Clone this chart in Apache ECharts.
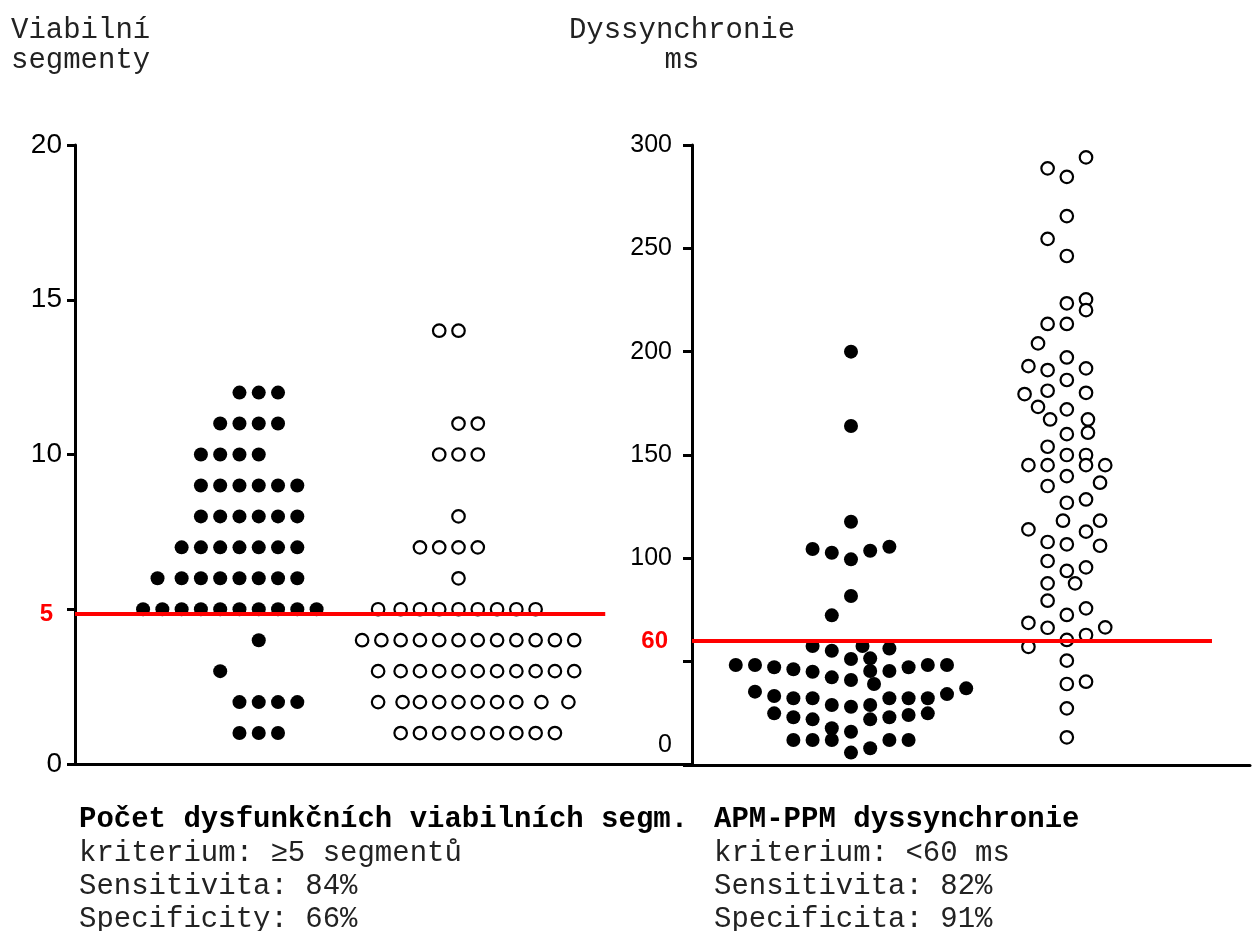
<!DOCTYPE html>
<html>
<head>
<meta charset="utf-8">
<script src="https://cdn.jsdelivr.net/npm/echarts@6/dist/echarts.min.js"></script>
<style>html,body{margin:0;padding:0;background:#fff}#c{width:1252px;height:931px}</style>
</head>
<body>
<div id="c"></div>
<script>
// ---------- DATA ----------
// Left panel: viable segments, rows of [value, swarm column positions]
const viabFilledRows = [
  [12, [5, 6, 7]],
  [11, [4, 5, 6, 7]],
  [10, [3, 4, 5, 6]],
  [9, [3, 4, 5, 6, 7, 8]],
  [8, [3, 4, 5, 6, 7, 8]],
  [7, [2, 3, 4, 5, 6, 7, 8]],
  [6, [0.75, 2, 3, 4, 5, 6, 7, 8]],
  [5, [0, 1, 2, 3, 4, 5, 6, 7, 8, 9]],
  [4, [6]],
  [3, [4]],
  [2, [5, 6, 7, 8]],
  [1, [5, 6, 7]]
];
const viabOpenRows = [
  [14, [4, 5]],
  [11, [5, 6]],
  [10, [4, 5, 6]],
  [8, [5]],
  [7, [3, 4, 5, 6]],
  [6, [5]],
  [5, [0.83, 2, 3, 4, 5, 6, 7, 8, 9]],
  [4, [0, 1, 2, 3, 4, 5, 6, 7, 8, 9, 10, 11]],
  [3, [0.83, 2, 3, 4, 5, 6, 7, 8, 9, 10, 11]],
  [2, [0.83, 2.1, 3, 4, 5, 6, 7, 8, 9.3, 10.7]],
  [1, [2, 3, 4, 5, 6, 7, 8, 9, 10]]
];
// Right panel: dyssynchrony (ms), pairs of [swarm offset, value]
const dysFilled = [
  [0,200],[0,164],[0,117.7],[-2,104.5],[-1,102.7],[0,99.5],[1,103.7],[2,105.6],
  [0,81.8],[-1,72.4],[-2,57.6],[-1,55.3],[0.6,57.6],[2,56.4],[0,51.3],[1,51.6],
  [-6,48.4],[-5,48.4],[-4,47.3],[-3,46.3],[-2,45.1],[-1,42.4],[0,41.1],[1,45.5],
  [2,45.5],[3,47.3],[4,48.4],[5,48.4],[1.2,39.2],[-5,35.5],[-4,33.4],[-3,32.3],
  [-2,32.3],[-1,29],[0,28.2],[1,29],[2,32.3],[3,32.3],[4,32.3],[5,34.3],[6,37.1],
  [-4,25],[-3,23.1],[-2,22.1],[1,22.1],[2,23.1],[3,24.2],[4,25],[-1,17.8],[0,16.1],
  [-3,12.1],[-2,12.1],[-1,12.1],[2,12.1],[3,12.1],[0,6],[1,8.1]
];
const dysOpen = [
  [1,294],[-1,288.7],[0,284.6],[0,265.6],[-1,254.6],[0,246.3],[1,225.3],[1,220.1],
  [0,223.4],[-1,213.4],[0,213.4],[-1.5,204],[0,197.2],[-2,193],[-1,191.1],[1,191.9],
  [0,186.3],[-2.2,179.5],[-1,181.1],[1,180.1],[-1.5,173.3],[0,172.1],[-0.87,167.2],
  [1.1,167.2],[1.1,160.8],[0,160.1],[-1,154],[0,150],[1,150],[-2,145.1],[-1,145.1],
  [1,145.1],[2,145.1],[0,139.8],[-1,135],[1.73,136.6],[0,126.9],[1,128.5],[-0.2,118.2],
  [1.73,118.2],[-2,114],[1,112.9],[-1,107.9],[0,106.8],[1.73,106.1],[-1,98.7],[0,93.9],
  [1,95.6],[-1,87.9],[0.43,87.9],[-1,79.5],[0,72.6],[1,75.8],[-2,68.8],[-1,66.4],
  [2,66.6],[0,60.5],[1,62.9],[-2,57.2],[0,50.5],[0,39.2],[1,40.3],[0,27.4],[0,13.4]
];
const leftTicks = [0, 5, 10, 15, 20];
const rightTicks = [0, 50, 100, 150, 200, 250, 300];
const leftCutoff = 5, rightCutoff = 60;
const leftAxisTitle = ['Viabilní', 'segmenty'];
const rightAxisTitle = ['Dyssynchronie', 'ms'];
const leftCaption = ['Počet dysfunkčních viabilních segm.', 'kriterium: ≥5 segmentů', 'Sensitivita: 84%', 'Specificity: 66%'];
const rightCaption = ['APM-PPM dyssynchronie', 'kriterium: <60 ms', 'Sensitivita: 82%', 'Specificita: 91%'];

// ---------- LAYOUT ----------
const L_XMAX = 32, L_FILLED_BASE = 3.53, L_OPEN_BASE = 14.89, L_LINE_END = 27.5, L_LINE_Y = 4.85;
const R_XMAX = 29.06, R_FILLED_C = 8.28, R_OPEN_C = 19.52, R_LINE_END = 27.08;
const MONO = 'Liberation Mono';
const SANS = 'Liberation Sans';

const rowsToData = (rows, base) => rows.flatMap(([v, cols]) => cols.map(c => [base + c, v]));
const offToData = (pairs, c) => pairs.map(([o, v]) => [c + o, v]);

const filledStyle = { color: '#000', opacity: 1 };
const openStyle = { color: '#fff', borderColor: '#000', borderWidth: 2.2, opacity: 1 };

function caption(lines) {
  return '{b|' + lines[0] + '}\n' + lines.slice(1).map(s => '{n|' + s + '}').join('\n');
}
const capRich = {
  b: { fontFamily: MONO, fontSize: 29, fontWeight: 'bold', color: '#000', lineHeight: 34 },
  n: { fontFamily: MONO, fontSize: 29, fontWeight: 'normal', color: '#222', lineHeight: 33 }
};

const redLabel = (txt, dist) => ({
  show: true, position: 'start', formatter: txt, distance: dist,
  color: '#ff0000', fontFamily: SANS, fontWeight: 'bold', fontSize: 24
});

const option = {
  animation: false,
  backgroundColor: '#fff',
  title: [
    { left: 6, top: 10, text: leftAxisTitle.join('\n'),
      textStyle: { fontFamily: MONO, fontSize: 29, fontWeight: 'normal', color: '#222', lineHeight: 30 } },
    { left: 677, top: 10, textAlign: 'center', text: rightAxisTitle.join('\n'),
      textStyle: { fontFamily: MONO, fontSize: 29, fontWeight: 'normal', color: '#222', lineHeight: 30, align: 'center' } },
    { left: 74, top: 798, text: caption(leftCaption), textStyle: { fontWeight: 'normal', rich: capRich } },
    { left: 709, top: 798, text: caption(rightCaption), textStyle: { fontWeight: 'normal', rich: capRich } }
  ],
  grid: [
    { left: 75, right: 560, top: 145, bottom: 167 },
    { left: 692, right: 2, top: 145, bottom: 166 }
  ],
  xAxis: [
    { gridIndex: 0, type: 'value', min: 0, max: L_XMAX, show: true,
      axisLine: { show: true, onZero: false, lineStyle: { color: '#000', width: 3 } },
      axisTick: { show: false }, axisLabel: { show: false }, splitLine: { show: false } },
    { gridIndex: 1, type: 'value', min: 0, max: R_XMAX,
      axisLine: { show: true, onZero: false, lineStyle: { color: '#000', width: 3 } },
      axisTick: { show: false }, axisLabel: { show: false }, splitLine: { show: false } }
  ],
  yAxis: [
    { gridIndex: 0, type: 'value', min: leftTicks[0], max: leftTicks[leftTicks.length - 1], interval: 5,
      axisLine: { show: true, onZero: false, lineStyle: { color: '#000', width: 3 } },
      axisTick: { show: true, length: 8, lineStyle: { color: '#000', width: 3 } },
      splitLine: { show: false },
      axisLabel: { margin: 13, fontFamily: SANS, fontSize: 28, color: '#000',
        formatter: v => (v === leftCutoff ? '' : String(v)) } },
    { gridIndex: 1, type: 'value', min: rightTicks[0], max: rightTicks[rightTicks.length - 1], interval: 50,
      axisLine: { show: true, onZero: false, lineStyle: { color: '#000', width: 3 } },
      axisTick: { show: true, length: 9, lineStyle: { color: '#000', width: 3 } },
      splitLine: { show: false },
      axisLabel: { margin: 20, fontFamily: SANS, fontSize: 25, color: '#000',
        formatter: v => (v === 0 ? '{z|0}' : v === 50 ? '' : String(v)),
        rich: { z: { fontFamily: SANS, fontSize: 25, color: '#000', padding: [0, 0, 40, 0] } } } }
  ],
  series: [
    { type: 'scatter', xAxisIndex: 0, yAxisIndex: 0, symbol: 'circle', symbolSize: 14,
      itemStyle: filledStyle, data: rowsToData(viabFilledRows, L_FILLED_BASE), z: 3 },
    { type: 'scatter', xAxisIndex: 0, yAxisIndex: 0, symbol: 'circle', symbolSize: 12.5,
      itemStyle: openStyle, data: rowsToData(viabOpenRows, L_OPEN_BASE), z: 3,
      markLine: { silent: true, symbol: 'none', z: 10, animation: false,
        lineStyle: { color: '#ff0000', width: 4, type: 'solid' },
        label: redLabel(String(leftCutoff), 22),
        data: [[{ coord: [0, L_LINE_Y] }, { coord: [L_LINE_END, L_LINE_Y] }]] } },
    { type: 'scatter', xAxisIndex: 1, yAxisIndex: 1, symbol: 'circle', symbolSize: 14,
      itemStyle: filledStyle, data: offToData(dysFilled, R_FILLED_C), z: 3 },
    { type: 'scatter', xAxisIndex: 1, yAxisIndex: 1, symbol: 'circle', symbolSize: 12.5,
      itemStyle: openStyle, data: offToData(dysOpen, R_OPEN_C), z: 3,
      markLine: { silent: true, symbol: 'none', z: 10, animation: false,
        lineStyle: { color: '#ff0000', width: 4, type: 'solid' },
        label: redLabel(String(rightCutoff), 24),
        data: [[{ coord: [0, rightCutoff] }, { coord: [R_LINE_END, rightCutoff] }]] } }
  ]
};
const chart = echarts.init(document.getElementById('c'), null, { renderer: 'canvas' });
chart.setOption(option);
</script>
</body>
</html>
